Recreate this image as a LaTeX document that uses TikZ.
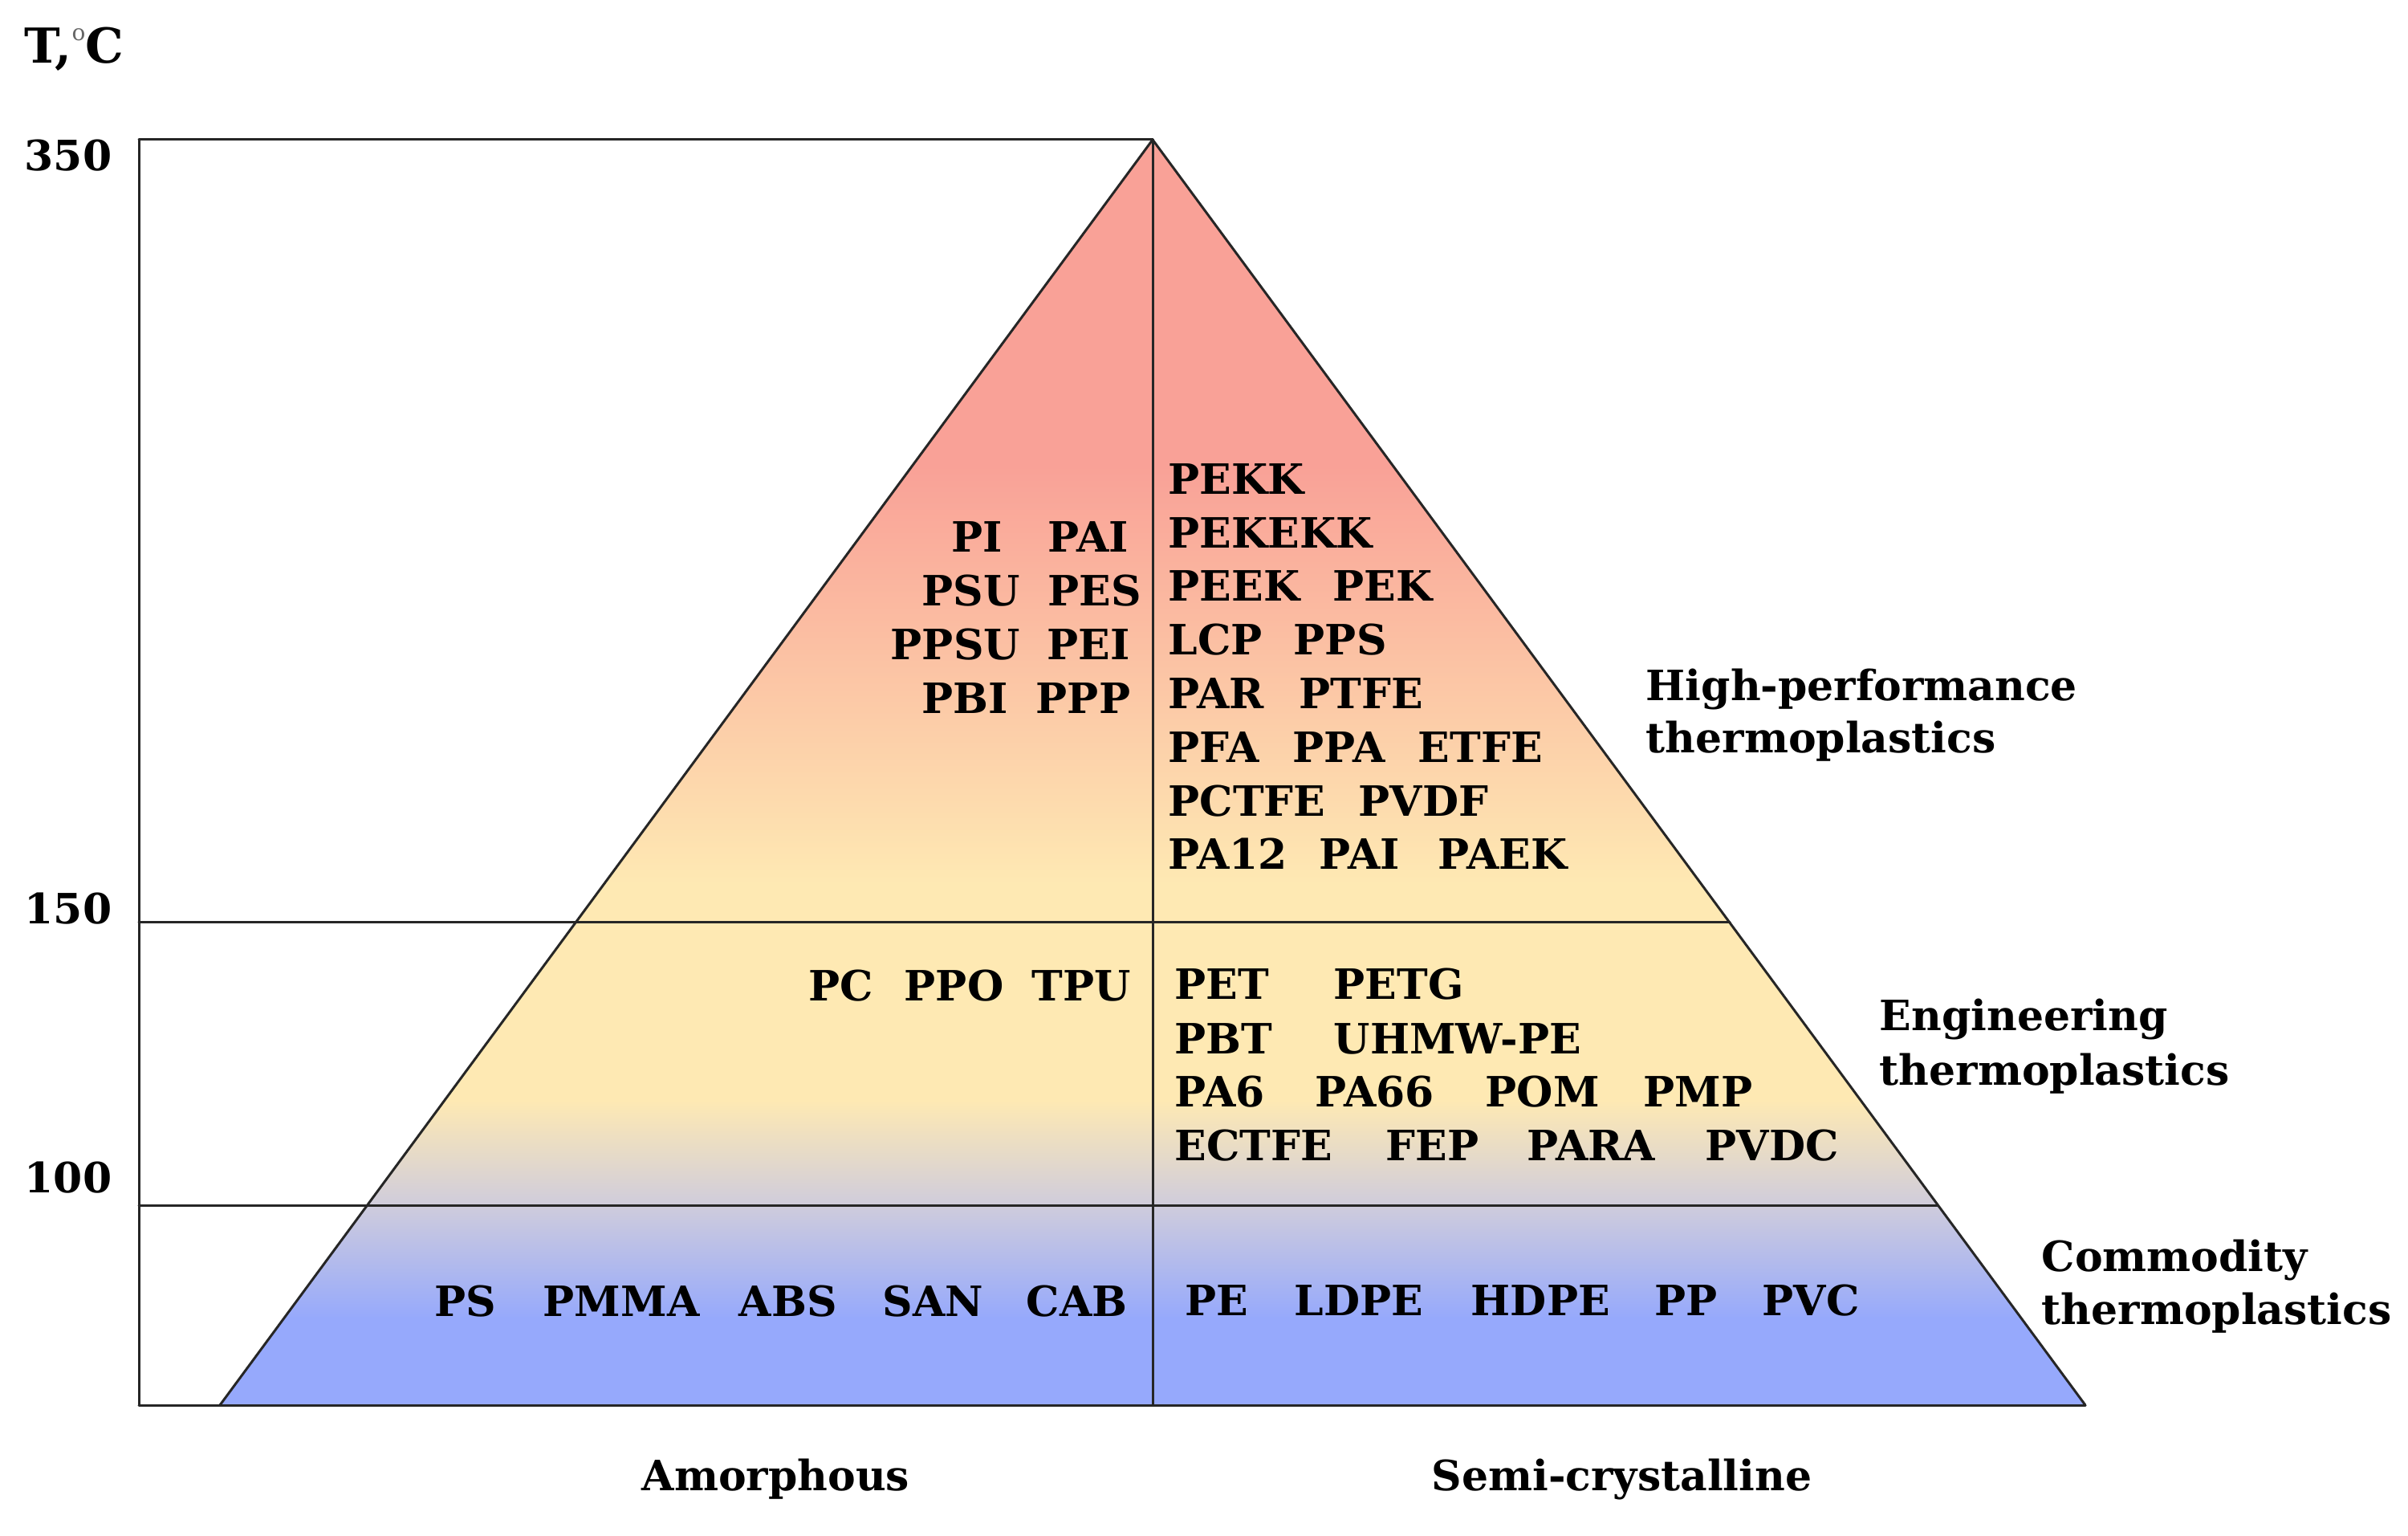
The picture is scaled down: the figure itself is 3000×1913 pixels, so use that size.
\documentclass[tikz,border=0pt]{standalone}
\usepackage{fontspec}
\setmainfont{DejaVu Serif}
\definecolor{salmon}{RGB}{249,161,151}
\definecolor{pyellow}{RGB}{254,233,179}
\definecolor{pgray}{RGB}{207,204,220}
\definecolor{pblue}{RGB}{150,169,252}
\begin{document}
\begin{tikzpicture}[x=0.25pt,y=-0.25pt,
  lbl/.style={font=\bfseries\fontsize{13}{15}\selectfont, inner sep=0pt, anchor=base west, text=black},
  ax/.style={line width=0.75pt, draw=black!85, line cap=round}]
\useasboundingbox (0,0) rectangle (3000,1913);
\fill[white] (0,0) rectangle (3000,1913);
\coordinate (apex) at (1436,174);
\coordinate (bl) at (274,1750);
\coordinate (br) at (2598,1750);
\coordinate (axtop) at (173,174);
\coordinate (axbot) at (173,1750);
\coordinate (cbot) at (1436,1750);
\coordinate (a150) at (173,1149);
\coordinate (r150) at (2155,1149);
\coordinate (a100) at (173,1501);
\coordinate (r100) at (2414,1501);
% gradient fill
\begin{scope}
\clip (apex) -- (bl) -- (br) -- cycle;
\fill[salmon] (200,160) rectangle (2700,582);
\shade[top color=salmon, bottom color=pyellow] (200,580) rectangle (2700,1102);
\fill[pyellow] (200,1100) rectangle (2700,1372);
\shade[top color=pyellow, bottom color=pgray] (200,1370) rectangle (2700,1502);
\shade[top color=pgray, bottom color=pblue] (200,1500) rectangle (2700,1642);
\fill[pblue] (200,1640) rectangle (2700,1760);
\end{scope}
% lines
\draw[ax] (axtop) -- (apex);
\draw[ax] (axtop) -- (axbot);
\draw[ax] (apex) -- (bl);
\draw[ax] (apex) -- (br);
\draw[ax] (axbot) -- (br);
\draw[ax] (apex) -- (cbot);
\draw[ax] (a150) -- (r150);
\draw[ax] (a100) -- (r100);
% axis labels
\node[lbl, font=\bfseries\fontsize{15}{17}\selectfont] (tc) at (30,79) {T,\raisebox{0.9ex}{\mdseries\fontsize{7}{7}\selectfont\color{black!60}o}C};
\node[lbl, anchor=base east] (n350) at (140,213) {350};
\node[lbl, anchor=base east] (n150) at (140,1150) {150};
\node[lbl, anchor=base east] (n100) at (140,1485) {100};
% words
\foreach \nm/\xx/\yy/\tt in {
 pi/1185/688/PI, pai/1305/688/PAI, psu/1148/755/PSU, pes/1305/755/PES,
 ppsu/1109/822/PPSU, pei/1304/822/PEI, pbi/1148/889/PBI, ppp/1290/889/PPP,
 pekk/1455/616/PEKK, pekekk/1455/683/PEKEKK, peek/1455/749/PEEK, pek/1660/749/PEK,
 lcp/1455/816/LCP, pps/1611/816/PPS, par/1455/883/PAR, ptfe/1618/883/PTFE,
 pfa/1455/950/PFA, ppa/1610/950/PPA, etfe/1766/950/ETFE,
 pctfe/1455/1017/PCTFE, pvdf/1692/1017/PVDF,
 pa12/1455/1083/PA12, paitwo/1643/1083/PAI, paek/1791/1083/PAEK,
 pc/1007/1247/PC, ppo/1126/1247/PPO, tpu/1285/1247/TPU,
 pet/1463/1245/PET, petg/1661/1245/PETG, pbt/1463/1312/PBT, uhmw/1661/1312/UHMW-PE,
 pasix/1463/1378/PA6, pasixsix/1638/1378/PA66, pom/1850/1378/POM, pmp/2047/1378/PMP,
 ectfe/1463/1445/ECTFE, fep/1726/1445/FEP, para/1902/1445/PARA, pvdc/2124/1445/PVDC,
 ps/541/1639/PS, pmma/676/1639/PMMA, abs/920/1639/ABS, san/1099/1639/SAN, cab/1278/1639/CAB,
 pe/1476/1638/PE, ldpe/1612/1638/LDPE, hdpe/1832/1638/HDPE, pp/2061/1638/PP, pvc/2195/1638/PVC,
 amor/799/1856/Amorphous, semi/1783/1856/Semi-crystalline,
 hpa/2050/873/High-performance, hpb/2050/938/thermoplastics,
 ena/2341/1283/Engineering, enb/2341/1351/thermoplastics,
 coa/2543/1583/Commodity, cob/2543/1649/thermoplastics}
{\node[lbl] (\nm) at (\xx,\yy) {\tt};}
\end{tikzpicture}
\end{document}
